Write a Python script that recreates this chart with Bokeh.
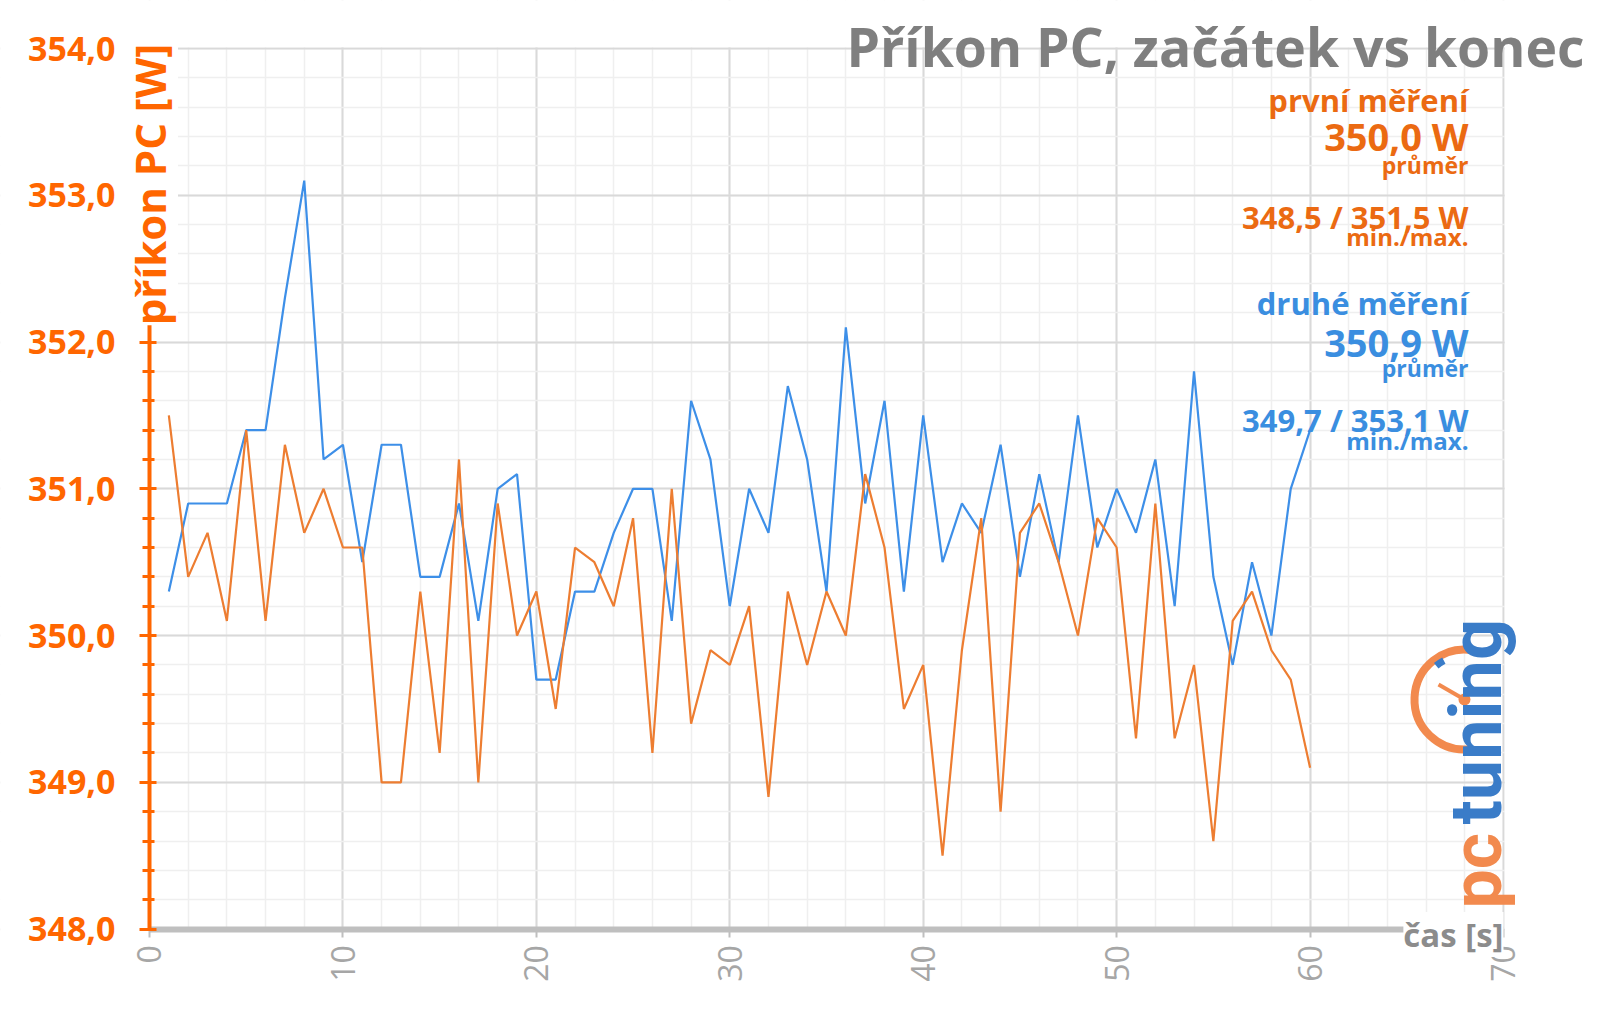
from math import pi
from bokeh.plotting import figure
from bokeh.models import Range1d, FixedTicker, Label, BoxAnnotation
from bokeh.embed import file_html
from bokeh.resources import INLINE

# ---------------- data ----------------
time_s = list(range(1, 61))
first_run = [351.5, 350.4, 350.7, 350.1, 351.4, 350.1, 351.3, 350.7, 351.0, 350.6,
             350.6, 349.0, 349.0, 350.3, 349.2, 351.2, 349.0, 350.9, 350.0, 350.3,
             349.5, 350.6, 350.5, 350.2, 350.8, 349.2, 351.0, 349.4, 349.9, 349.8,
             350.2, 348.9, 350.3, 349.8, 350.3, 350.0, 351.1, 350.6, 349.5, 349.8,
             348.5, 349.9, 350.8, 348.8, 350.7, 350.9, 350.5, 350.0, 350.8, 350.6,
             349.3, 350.9, 349.3, 349.8, 348.6, 350.1, 350.3, 349.9, 349.7, 349.1]
second_run = [350.3, 350.9, 350.9, 350.9, 351.4, 351.4, 352.3, 353.1, 351.2, 351.3,
              350.5, 351.3, 351.3, 350.4, 350.4, 350.9, 350.1, 351.0, 351.1, 349.7,
              349.7, 350.3, 350.3, 350.7, 351.0, 351.0, 350.1, 351.6, 351.2, 350.2,
              351.0, 350.7, 351.7, 351.2, 350.3, 352.1, 350.9, 351.6, 350.3, 351.5,
              350.5, 350.9, 350.7, 351.3, 350.4, 351.1, 350.5, 351.5, 350.6, 351.0,
              350.7, 351.2, 350.2, 351.8, 350.4, 349.8, 350.5, 350.0, 351.0, 351.4]

x_ticks = [0, 10, 20, 30, 40, 50, 60, 70]
x_tick_labels = ["0", "10", "20", "30", "40", "50", "60", "70"]
y_ticks = [348, 349, 350, 351, 352, 353, 354]
y_tick_labels = ["348,0", "349,0", "350,0", "351,0", "352,0", "353,0", "354,0"]

title_text = "Příkon PC, začátek vs konec"
y_title = "příkon PC [W]"
x_title = "čas [s]"

first_info = ["první měření", "350,0 W", "průměr", "348,5 / 351,5 W", "min./max."]
second_info = ["druhé měření", "350,9 W", "průměr", "349,7 / 353,1 W", "min./max."]

# ---------------- layout (pixels) ----------------
W, H = 1600, 1011
X0, X1 = 0, 70
Y0, Y1 = 348, 354
PX_L, PX_R, PX_T, PX_B = 149.0, 1503.0, 48.0, 928.6
sx = (PX_R - PX_L) / (X1 - X0)
sy = (PX_B - PX_T) / (Y1 - Y0)


def dx(px):
    return X0 + (px - PX_L) / sx


def dy(py):
    return Y0 + (PX_B - py) / sy


ORANGE_AX = "#FF6600"
ORANGE_TXT = "#EB6A12"
ORANGE_LINE = "#ED7D31"
BLUE_TXT = "#3A8EE0"
BLUE_LINE = "#3D8FE8"
GRAY_TITLE = "#7F7F7F"
FONT = "Open Sans"
BASE_K = 0.4  # svg alphabetic baseline correction (fraction of font size)

p = figure(width=W, height=H,
           x_range=Range1d(dx(0), dx(W)), y_range=Range1d(dy(H), dy(0)),
           output_backend="svg", toolbar_location=None, min_border=0)
p.outline_line_color = None
p.background_fill_color = "white"
p.border_fill_color = "white"

# grids
x_minor = list(range(0, 71, 2))
y_minor = [round(348 + 0.2 * i, 1) for i in range(31)]
xt = FixedTicker(ticks=x_ticks, minor_ticks=x_minor)
yt = FixedTicker(ticks=y_ticks, minor_ticks=y_minor)
p.xaxis.ticker = xt
p.yaxis.ticker = yt
p.xgrid.ticker = xt
p.ygrid.ticker = yt
for g in (p.xgrid, p.ygrid):
    g.grid_line_color = "#D9D9D9"
    g.grid_line_width = 2
    g.minor_grid_line_color = "#EFEFEF"
    g.minor_grid_line_width = 1.5

# white masks outside the plotting rectangle (over the grid only)
e = 1.2 / sx
f = 1.2 / sy
for l, r, b, t in [(dx(-10), X0 - e, dy(H + 10), dy(-10)),
                   (X1 + e, dx(W + 10), dy(H + 10), dy(-10)),
                   (dx(-10), dx(W + 10), Y1 + f, dy(-10)),
                   (dx(-10), dx(W + 10), dy(H + 10), Y0 - f)]:
    p.add_layout(BoxAnnotation(left=l, right=r, bottom=b, top=t,
                               fill_color="white", fill_alpha=1.0,
                               line_color=None, level="underlay"))

# x axis
xa = p.xaxis[0]
xa.fixed_location = Y0
xa.bounds = (X0, X1)
xa.major_label_overrides = {t: l for t, l in zip(x_ticks, x_tick_labels)}
xa.axis_line_color = "#BFBFBF"
xa.axis_line_width = 6
xa.major_tick_line_color = "#BFBFBF"
xa.major_tick_line_width = 2
xa.major_tick_out = 8
xa.major_tick_in = 0
xa.minor_tick_line_color = None
xa.major_label_orientation = pi / 2
xa.major_label_text_font = FONT
xa.major_label_text_font_size = "32px"
xa.major_label_text_color = "#A6A6A6"
xa.major_label_standoff = 8

# y axis
ya = p.yaxis[0]
ya.fixed_location = X0
ya.bounds = (Y0, Y1)
ya.major_label_overrides = {t: l for t, l in zip(y_ticks, y_tick_labels)}
ya.axis_line_color = ORANGE_AX
ya.axis_line_width = 4
ya.major_tick_line_color = ORANGE_AX
ya.major_tick_line_width = 3
ya.major_tick_out = 10
ya.major_tick_in = 7
ya.minor_tick_line_color = ORANGE_AX
ya.minor_tick_line_width = 3
ya.minor_tick_out = 7
ya.minor_tick_in = 5
ya.major_label_text_font = FONT
ya.major_label_text_font_style = "bold"
ya.major_label_text_font_size = "34px"
ya.major_label_text_color = ORANGE_AX
ya.major_label_standoff = 24

# lines
p.line(time_s, second_run, line_color=BLUE_LINE, line_width=2.2)
p.line(time_s, first_run, line_color=ORANGE_LINE, line_width=2.2)

# axis titles (drawn over the axis lines, with white background)
p.add_layout(Label(x=X0, y=dy(184), text=y_title, angle=pi / 2,
                   text_align="center", text_baseline="middle",
                   text_color=ORANGE_AX, text_font=FONT, text_font_style="bold",
                   text_font_size="42px", background_fill_color="white"))
p.add_layout(Label(x=X1, y=dy(934), text=x_title,
                   text_align="right", text_baseline="middle",
                   text_color="#8C8C8C", text_font=FONT, text_font_style="bold",
                   text_font_size="33px", background_fill_color="white"))


def add_text(txt, right_px, base_px, size, color):
    p.add_layout(Label(x=dx(right_px), y=dy(base_px - BASE_K * size), text=txt,
                       text_align="right", text_baseline="alphabetic",
                       text_color=color, text_font=FONT, text_font_style="bold",
                       text_font_size=f"{size}px"))


# chart title
add_text(title_text, 1584, 67, 53.5, GRAY_TITLE)

# info block
info_sizes = [31, 38, 23, 31, 24]
first_base = [112, 151, 174, 229, 246]
second_base = [315, 357, 377, 432, 450]
for txt, b, fs in zip(first_info, first_base, info_sizes):
    add_text(txt, 1468, b, fs, ORANGE_TXT)
for txt, b, fs in zip(second_info, second_base, info_sizes):
    add_text(txt, 1468, b, fs, BLUE_TXT)

# logo (decorative)
lx, ly = dx(1464), dy(699)
p.arc(x=[lx], y=[ly], radius=50, radius_units="screen",
      start_angle=80 * pi / 180, end_angle=275 * pi / 180,
      line_color="#F28A4E", line_width=8)
p.arc(x=[lx], y=[ly], radius=44, radius_units="screen",
      start_angle=118 * pi / 180, end_angle=130 * pi / 180,
      line_color="#3A7CC8", line_width=7)
p.ray(x=[lx], y=[ly], length=30, length_units="screen",
      angle=150 * pi / 180, line_color="#F28A4E", line_width=4)
p.scatter(x=[lx], y=[ly], size=12, fill_color="#F28A4E", line_color=None)
p.add_layout(Label(x=dx(1476), y=dy(908), text="pc", angle=pi / 2,
                   text_align="left", text_baseline="middle",
                   text_color="#F28A4E", text_font="Roboto", text_font_style="bold",
                   text_font_size="70px"))
p.add_layout(Label(x=dx(1476), y=dy(824), text="tuning", angle=pi / 2,
                   text_align="left", text_baseline="middle",
                   text_color="#3A7CC8", text_font="Roboto", text_font_style="bold",
                   text_font_size="72px"))

open("out.html", "w").write(file_html(p, INLINE))
